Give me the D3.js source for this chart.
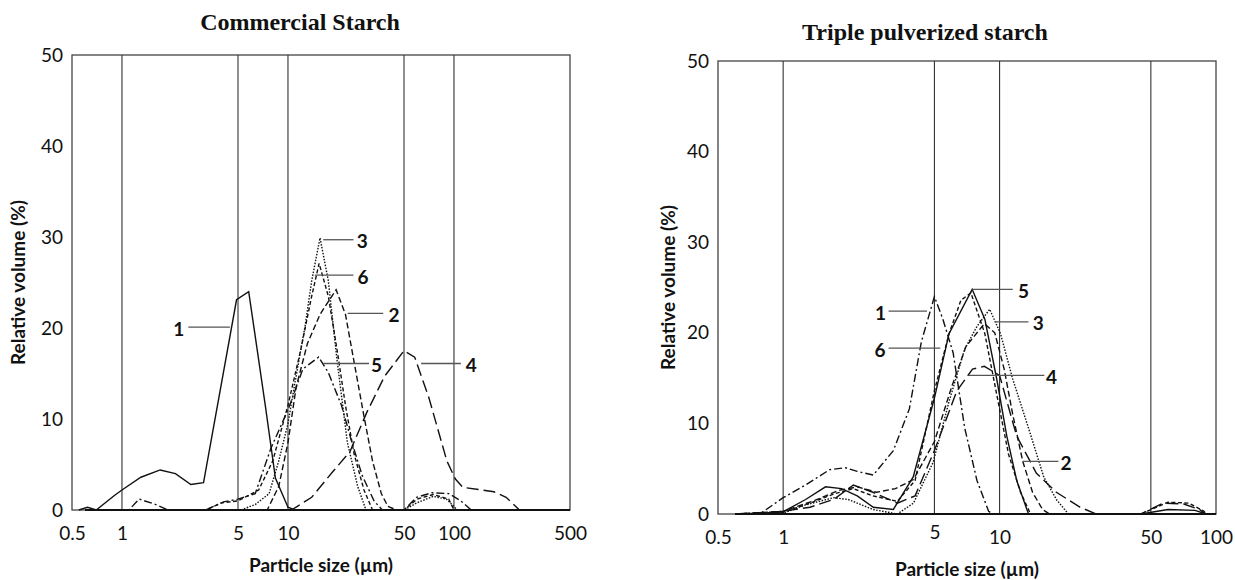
<!DOCTYPE html>
<html lang="en">
<head>
    <meta charset="utf-8">
    <title>Particle size distributions</title>
    <style>
        body { margin: 0; background: #fff; }
        text { fill: #111; }
    </style>
</head>
<body>
    <svg width="1235" height="580"></svg>
    <script src="https://cdn.jsdelivr.net/npm/d3@7"></script>
    <script>
        // commercial starch, [size µm, relative volume %]
        const cs1 = [[0.55,0],[0.62,0.3],[0.7,0],[0.9,1.6],[1,2.2],[1.3,3.6],[1.7,4.4],[2.1,4.0],[2.6,2.8],[3.1,3.0],[4.9,23.1],[5.8,24.0],[7.3,11.5],[8.4,3.5],[10,0.3],[11,0],[400,0]];
        const cs2 = [[0.6,0],[7.5,0],[8.8,2.6],[10,7.4],[11.2,13.5],[13.1,18.3],[15.6,21.5],[19.5,24.2],[22.2,21.5],[25,16.3],[28.7,10.3],[32.3,5.4],[36.5,1.8],[40,0.4],[45,0],[400,0]];
        const cs3 = [[0.6,0],[5.2,0],[6.35,0.6],[7.7,1.8],[8.8,5.4],[10,9.5],[10.9,13.5],[12.7,20.3],[13.9,25.2],[15.6,29.9],[17.5,25.2],[19.8,16.3],[22.8,7.4],[26.3,2.6],[29.5,0],[50,0],[60,0.8],[75,1.5],[90,1.2],[105,0],[400,0]];
        const cs4 = [[0.6,0],[10.5,0],[13.9,1.4],[18.6,4.2],[23.6,6.4],[29.8,10.7],[38.2,14.7],[50,17.5],[58,16.8],[70.7,12.3],[90.6,5.4],[102,3.4],[113,2.5],[174,2.0],[206,1.4],[248,0],[400,0]];
        const cs5 = [[0.6,0],[1.1,0],[1.27,1.2],[1.6,0.6],[1.9,0],[3.2,0],[4.1,0.9],[5,1.2],[6.35,1.8],[7.9,6.8],[10,11],[12.3,15.5],[15.3,16.8],[17.5,15.1],[21,11.5],[24.3,7.4],[28,3.8],[33,1.0],[37,0],[50,0],[59.6,1.4],[73.8,1.9],[93.1,1.8],[110,1.0],[127,0],[400,0]];
        const cs6 = [[0.6,0],[3.2,0],[4.0,0.8],[5,1.0],[6.66,2.2],[8.1,5.4],[10,11.5],[11.9,17.5],[13.9,23.5],[15.4,27.1],[17.5,23.5],[19.8,17.5],[22.2,11.5],[25,6.2],[28.7,2.2],[32.3,0],[50,0],[60,1.2],[75,1.7],[93,1.2],[100,0],[400,0]];

        // triple pulverized starch
        const tp1 = [[0.6,0],[0.78,0],[1,1.8],[1.27,3.2],[1.64,4.9],[1.94,5.1],[2.2,4.7],[2.61,4.3],[3.23,7],[3.83,11.6],[4.35,19],[5,24],[5.47,21.5],[6.1,17.8],[6.9,9.5],[7.86,3.7],[8.9,0.3],[9.3,0],[90,0]];
        const tp2 = [[0.6,0],[1,0.3],[1.4,1.5],[1.8,2.6],[2.2,3.0],[2.7,2.4],[3.3,2.8],[4,3.8],[5,8],[6,14],[7,18.5],[8.5,21],[9.5,20],[10.5,16],[11.5,11],[12.8,5.8],[14.2,2.4],[15.8,0.5],[17,0],[90,0]];
        const tp3 = [[0.65,0],[1,0.1],[1.27,1.0],[1.71,1.8],[2.0,1.6],[2.6,0.5],[3.37,0],[4,1.2],[4.93,5.7],[5.84,12.4],[6.9,18.2],[7.86,20.7],[9,22.6],[10.1,19.9],[11.5,14.9],[13.6,9.5],[16,4.1],[18.3,1.6],[20.8,0],[90,0]];
        const tp4 = [[0.6,0],[1,0.3],[1.33,0.75],[1.71,1.6],[2.11,3.2],[2.6,2.4],[3.37,1.2],[4.07,2.0],[5,7.0],[6.35,13.6],[7.5,16],[8.5,16.3],[10,15.3],[12,8.6],[14.8,4.5],[18.3,2.4],[23.5,0.75],[28,0],[45,0],[57,1.2],[71,1.1],[84,0.5],[89,0]];
        const tp5 = [[0.6,0],[0.78,0],[1,0.25],[1.27,1.6],[1.57,3.0],[1.86,2.8],[2.2,2.0],[2.61,0.75],[3.23,0.5],[3.99,4.1],[5,12.8],[5.84,19.9],[7.47,24.8],[8.55,21.5],[9.7,14.9],[10.8,8.6],[12,3.7],[13.6,0],[45,0],[60,0.5],[80,0.4],[90,0]];
        const tp6 = [[0.6,0],[1,0.2],[1.33,1.2],[1.71,2.2],[2.11,2.8],[2.6,2.0],[3.37,1.4],[4.07,3.7],[5,13.6],[5.84,19.9],[6.63,23.6],[7.37,24.4],[8.55,19.9],[9.7,13.2],[11,6.6],[12.5,2.4],[13.9,0],[45,0],[60,1.3],[75,1.2],[88,0.3],[90,0]];

        const yTicks = [0, 10, 20, 30, 40, 50];
        const csTicks = [0.5, 1, 5, 10, 50, 100, 500];
        const csGrid = [1, 5, 10, 50, 100];
        const tpTicks = [0.5, 1, 5, 10, 50, 100];
        const tpGrid = [1, 5, 10, 50];

        // curve labels: [name, leader from x, leader to x, y, label x]
        const csLabels = [["1",2.51,4.47,20.1,2.2],["3",16.3,24.8,29.7,28],["6",14.5,24.8,25.8,28.3],["2",22.9,37.5,21.6,43.5],["5",16.3,30.8,16.1,34.2],["4",63.4,110,16.1,127]];
        const tpLabels = [["5",7.47,11.5,24.8,12.9],["1",3.07,4.62,22.4,2.82],["3",9.5,13.6,21.2,15.1],["6",3.07,5.32,18.3,2.8],["4",7.22,16.1,15.3,17.4],["2",12.8,18.7,5.8,20.3]];

        const dash = {
            solid: null,
            dash: "6,3",
            dot: "1.5,1.5",
            longdash: "12,5",
            dashdot: "8,3,2,3",
            shortdash: "4,2.5"
        };

        const sans = "Lato, 'Open Sans', sans-serif";
        const svg = d3.select("svg");

        function panel(opt) {
            const g = svg.append("g");
            const x = d3.scaleLog().domain(opt.domain).range([opt.left, opt.right]);
            const y = d3.scaleLinear().domain([0, 50]).range([opt.bottom, opt.top]);

            g.append("rect")
                .attr("x", opt.left).attr("y", opt.top)
                .attr("width", opt.right - opt.left).attr("height", opt.bottom - opt.top)
                .attr("fill", "none").attr("stroke", "#444").attr("stroke-width", 1.3);

            g.selectAll(".grid").data(opt.grid).join("line")
                .attr("x1", d => x(d)).attr("x2", d => x(d))
                .attr("y1", opt.top).attr("y2", opt.bottom)
                .attr("stroke", "#333").attr("stroke-width", 1.1);

            // y axis
            const ya = g.append("g").attr("transform", `translate(${opt.left},0)`)
                .call(d3.axisLeft(y).tickValues(yTicks).tickSize(0).tickPadding(9));
            ya.select(".domain").remove();
            ya.selectAll("text").style("font", `19px ${sans}`).attr("fill", "#222");

            // x axis
            const xa = g.append("g").attr("transform", `translate(0,${opt.bottom})`)
                .call(d3.axisBottom(x).tickValues(opt.ticks).tickFormat(d => d).tickSize(0).tickPadding(17));
            xa.select(".domain").remove();
            xa.selectAll("text").style("font", `19px ${sans}`).attr("fill", "#222");
            if (opt.liftFive) xa.selectAll("text").filter(d => d === 5).attr("dy", "0.4em");

            const line = d3.line().x(d => x(d[0])).y(d => y(d[1]));
            g.selectAll(".curve").data(opt.series).join("path")
                .attr("d", d => line(d.values))
                .attr("fill", "none")
                .attr("stroke", "#111")
                .attr("stroke-width", 1.4)
                .attr("stroke-dasharray", d => dash[d.style]);

            // baseline drawn heavier where curves sit on zero
            g.append("line")
                .attr("x1", x(0.6)).attr("x2", opt.right)
                .attr("y1", y(0)).attr("y2", y(0))
                .attr("stroke", "#111").attr("stroke-width", 2.2);

            const lab = g.selectAll(".lab").data(opt.labels).join("g");
            lab.append("line")
                .attr("x1", d => x(d[1])).attr("x2", d => x(d[2]))
                .attr("y1", d => y(d[3])).attr("y2", d => y(d[3]))
                .attr("stroke", "#555").attr("stroke-width", 1.3);
            lab.append("text")
                .attr("x", d => x(d[4])).attr("y", d => y(d[3]))
                .attr("dy", "0.45em")
                .attr("text-anchor", "middle")
                .style("font", `bold 19px ${sans}`)
                .text(d => d[0]);

            svg.append("text")
                .attr("x", opt.titleX).attr("y", opt.titleY)
                .attr("text-anchor", "middle")
                .style("font", "bold 24px 'Liberation Serif', 'Times New Roman', serif")
                .text(opt.title);

            svg.append("text")
                .attr("x", (opt.left + opt.right) / 2).attr("y", opt.bottom + 62)
                .attr("text-anchor", "middle")
                .style("font", `bold 19px ${sans}`)
                .text("Particle size (µm)");

            svg.append("text")
                .attr("transform", `translate(${opt.left - opt.yTitleGap},${(opt.top + opt.bottom) / 2}) rotate(-90)`)
                .attr("text-anchor", "middle")
                .style("font", `bold 19px ${sans}`)
                .text("Relative volume (%)");
        }

        panel({
            title: "Commercial Starch", titleX: 300, titleY: 30,
            domain: [0.5, 500], ticks: csTicks, grid: csGrid,
            left: 72, right: 570, top: 55, bottom: 510, yTitleGap: 47,
            series: [
                {values: cs1, style: "solid"}, {values: cs2, style: "dash"},
                {values: cs3, style: "dot"}, {values: cs4, style: "longdash"},
                {values: cs5, style: "dashdot"}, {values: cs6, style: "shortdash"}
            ],
            labels: csLabels
        });

        panel({
            title: "Triple pulverized starch", titleX: 925, titleY: 40,
            domain: [0.5, 100], ticks: tpTicks, grid: tpGrid,
            left: 718, right: 1216, top: 61, bottom: 514, yTitleGap: 43, liftFive: true,
            series: [
                {values: tp1, style: "dashdot"}, {values: tp2, style: "dash"},
                {values: tp3, style: "dot"}, {values: tp4, style: "longdash"},
                {values: tp5, style: "solid"}, {values: tp6, style: "shortdash"}
            ],
            labels: tpLabels
        });
    </script>
</body>
</html>
